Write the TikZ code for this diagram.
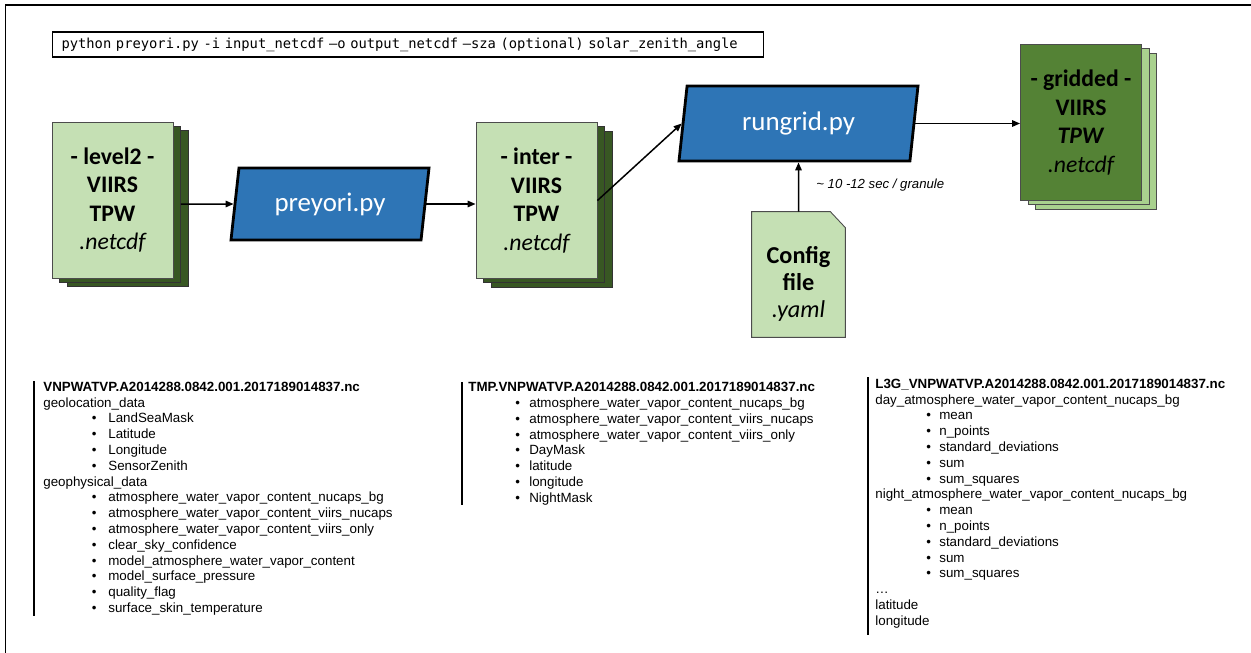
\documentclass[tikz,border=0pt]{standalone}
\usepackage{fontspec}
\setmainfont{Liberation Sans}
\newfontfamily\boxfont{Carlito}
\newfontfamily\codefont{DejaVu Sans Mono}
\usetikzlibrary{shapes.geometric, shadows, arrows.meta, backgrounds}

\definecolor{litegreen}{HTML}{C5E0B4}
\definecolor{darkgreen}{HTML}{385723}
\definecolor{midgreen}{HTML}{548235}
\definecolor{palegreen}{HTML}{A9D18E}
\definecolor{procblue}{HTML}{2E75B6}

\newlength\itmind
\newlength\itmbox
\newcommand\itm[1]{\hspace*{\itmind}\makebox[\itmbox][l]{\textbullet}#1}

\begin{document}
\begin{tikzpicture} [x=0.2mm, y=-0.2mm, line join=miter, >={Triangle[length=1.6mm, width=1.3mm]},
  stack/.style={draw=black!70, line width=0.5pt, minimum width=24.2mm, minimum height=31.2mm, inner sep=0pt, align=center, font=\boxfont\fontsize{13.5pt}{16.2pt}\selectfont\bfseries},
  darkcopies/.style={copy shadow={shadow xshift=3mm, shadow yshift=-1.7mm, fill=darkgreen, draw=black!80},
    copy shadow={shadow xshift=1.5mm, shadow yshift=-0.85mm, fill=darkgreen, draw=black!80}},
  palecopies/.style={copy shadow={shadow xshift=3mm, shadow yshift=-1.7mm, fill=palegreen, draw=black!70},
    copy shadow={shadow xshift=1.5mm, shadow yshift=-0.85mm, fill=palegreen, draw=black!70}},
  proc/.style={trapezium, trapezium left angle=77, trapezium right angle=103, trapezium stretches body, draw, line width=1.6pt, fill=procblue, text=white, font=\boxfont\fontsize{15.3pt}{16pt}\selectfont},
  cfgbox/.style={minimum width=18.6mm, minimum height=25mm, inner sep=0pt, align=center, text height=18mm, font=\boxfont\fontsize{13.8pt}{15.3pt}\selectfont\bfseries},
  cmdbox/.style={draw, line width=0.6pt, minimum height=5mm, inner xsep=1.8mm, inner ysep=0pt, text width=138.6mm, align=left, font=\codefont\fontsize{7.85pt}{8pt}\selectfont},
  lst/.style={inner sep=0pt, align=left, font=\fontsize{7.6pt}{9pt}\selectfont},
  bar/.style={line width=1.1pt},
  flow/.style={->, line width=0.85pt}]
 \useasboundingbox (0,0) rectangle (1251,653);
 \draw[line width=0.8pt] (5.5,653) -- (5.5,5) -- (1251,5);

 \node[cmdbox, anchor=west] (cmd) at (52,44.5) {python preyori.py -i input\_netcdf –o output\_netcdf –sza (optional) solar\_zenith\_angle};

 % files and scripts
 \node[stack, fill=litegreen, darkcopies] (lev) at (112.5,200) {- level2 -\\VIIRS\\TPW\\{\mdseries\itshape .netcdf}};
 \node[proc, minimum width=39.6mm, minimum height=14.4mm] (pre) at (330,204) {preyori.py};
 \node[stack, fill=litegreen, darkcopies] (int) at (536.5,200.5) {- inter -\\VIIRS\\TPW\\{\mdseries\itshape .netcdf}};
 \node[proc, minimum width=47.8mm, minimum height=15mm] (run) at (798.5,123.5) {rungrid.py};
 \node[stack, fill=midgreen, palecopies] (grd) at (1081,122.5) {- gridded -\\VIIRS\\\textit{TPW}\\{\mdseries\itshape .netcdf}};
 \node[cfgbox] (cfg) at (798.5,274.5) {Config\\file\\{\mdseries\itshape .yaml}};
 \begin{scope}[on background layer]
  \draw[fill=litegreen, draw=black!70, line width=0.5pt] (cfg.south west) -- (cfg.north west) -- ([xshift=-3mm]cfg.north east)
   -- ([yshift=-3.2mm]cfg.north east) -- (cfg.south east) -- cycle;
 \end{scope}

 \draw[flow, shorten <=1.5mm] (lev.east |- pre) -- (pre.west);
 \draw[flow] (pre.east) -- (int.west |- pre.east);
 \draw[flow] (int.east) -- (run.west);
 \draw[flow] (run.east) -- (grd.west |- run.east);
 \draw[flow] (cfg.north) -- (run.south);
 \node[anchor=west, inner sep=0pt, font=\itshape\fontsize{7.5pt}{8pt}\selectfont] (spd) at (816,185) {\textasciitilde{} 10 -12 sec / granule};

 % file contents
 \node[lst, anchor=north west, execute at begin node={\setlength\itmind{9.7mm}\setlength\itmbox{3.3mm}}] (l2c) at (43,381.5) {%
  \textbf{VNPWATVP.A2014288.0842.001.2017189014837.nc}\\
  geolocation\_data\\
  \itm{LandSeaMask}\\
  \itm{Latitude}\\
  \itm{Longitude}\\
  \itm{SensorZenith}\\
  geophysical\_data\\
  \itm{atmosphere\_water\_vapor\_content\_nucaps\_bg}\\
  \itm{atmosphere\_water\_vapor\_content\_viirs\_nucaps}\\
  \itm{atmosphere\_water\_vapor\_content\_viirs\_only}\\
  \itm{clear\_sky\_confidence}\\
  \itm{model\_atmosphere\_water\_vapor\_content}\\
  \itm{model\_surface\_pressure}\\
  \itm{quality\_flag}\\
  \itm{surface\_skin\_temperature}};
 \node[lst, anchor=north west, execute at begin node={\setlength\itmind{9.4mm}\setlength\itmbox{2.8mm}}] (tmpc) at (468,382) {%
  \textbf{TMP.VNPWATVP.A2014288.0842.001.2017189014837.nc}\\
  \itm{atmosphere\_water\_vapor\_content\_nucaps\_bg}\\
  \itm{atmosphere\_water\_vapor\_content\_viirs\_nucaps}\\
  \itm{atmosphere\_water\_vapor\_content\_viirs\_only}\\
  \itm{DayMask}\\
  \itm{latitude}\\
  \itm{longitude}\\
  \itm{NightMask}};
 \node[lst, anchor=north west, execute at begin node={\setlength\itmind{10.2mm}\setlength\itmbox{2.6mm}}] (l3c) at (875,378.5) {%
  \textbf{L3G\_VNPWATVP.A2014288.0842.001.2017189014837.nc}\\
  day\_atmosphere\_water\_vapor\_content\_nucaps\_bg\\
  \itm{mean}\\
  \itm{n\_points}\\
  \itm{standard\_deviations}\\
  \itm{sum}\\
  \itm{sum\_squares}\\
  night\_atmosphere\_water\_vapor\_content\_nucaps\_bg\\
  \itm{mean}\\
  \itm{n\_points}\\
  \itm{standard\_deviations}\\
  \itm{sum}\\
  \itm{sum\_squares}\\
  \dots\\
  latitude\\
  longitude};
 \draw[bar] (34,381) -- (34,616);
 \draw[bar] (462,382) -- (462,505);
 \draw[bar] (868,377) -- (868,635);
\end{tikzpicture}
\end{document}
